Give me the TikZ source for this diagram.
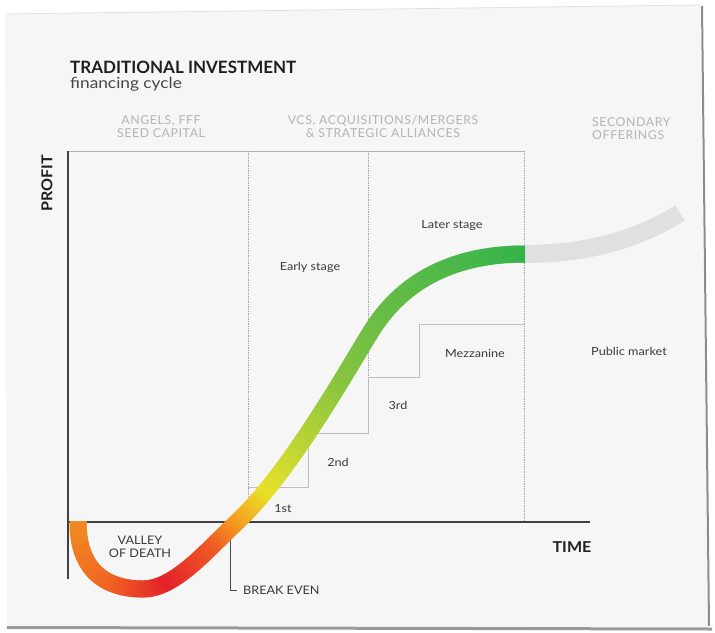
\documentclass[tikz,border=0pt]{standalone}
\usepackage{fontspec}
\setmainfont{Lato}
\newfontfamily\spacedfont[LetterSpace=5]{Lato}
\newfontfamily\widefont[FakeStretch=1.13]{Lato}
\newfontfamily\capfont[FakeStretch=1.07]{Lato}
\usetikzlibrary{decorations.markings}
\definecolor{paper}{HTML}{F6F6F6}
\definecolor{cA}{HTML}{F08C22}
\definecolor{cB}{HTML}{F26522}
\definecolor{cC}{HTML}{E32129}
\definecolor{cD}{HTML}{EE5A24}
\definecolor{cE}{HTML}{F5A01F}
\definecolor{cF}{HTML}{E8E12A}
\definecolor{cG}{HTML}{B7D335}
\definecolor{cH}{HTML}{86C440}
\definecolor{cI}{HTML}{6ABD45}
\definecolor{cJ}{HTML}{33B34A}
\definecolor{hdrgray}{HTML}{B4B4B4}
\definecolor{txt}{HTML}{3A3A3A}
\newcommand\mixstop[4]{%
  \pgfmathsetmacro\mixp{max(0,min(100,(\bdist-#1)/(#2-#1)*100))}%
  \colorlet{bandc}{#4!\mixp!#3}}
\newcommand\bandcolor{%
  \pgfmathsetmacro\bdist{\pgfkeysvalueof{/pgf/decoration/mark info/distance from start}}%
  \ifdim\bdist pt<70pt \mixstop{0}{70}{cA}{cB}%
  \else\ifdim\bdist pt<130pt \mixstop{70}{130}{cB}{cC}%
  \else\ifdim\bdist pt<190pt \mixstop{130}{190}{cC}{cD}%
  \else\ifdim\bdist pt<225pt \mixstop{190}{225}{cD}{cE}%
  \else\ifdim\bdist pt<265pt \mixstop{225}{265}{cE}{cF}%
  \else\ifdim\bdist pt<330pt \mixstop{265}{330}{cF}{cG}%
  \else\ifdim\bdist pt<400pt \mixstop{330}{400}{cG}{cH}%
  \else\ifdim\bdist pt<470pt \mixstop{400}{470}{cH}{cI}%
  \else \mixstop{470}{640}{cI}{cJ}%
  \fi\fi\fi\fi\fi\fi\fi\fi}
\tikzset{
  bandslices/.style={decorate, decoration={markings,
      mark=between positions 0 and 1 step 0.7pt with {\bandcolor
        \fill[bandc] (-0.6pt,-8.5pt) rectangle (0.6pt,8.5pt);}}},
  axisline/.style={draw=black!75, line width=1.8pt},
  frameline/.style={draw=black!30, line width=0.8pt},
  dotline/.style={draw=black!35, line width=0.7pt, densely dotted},
  stepline/.style={draw=black!25, line width=1pt},
  beline/.style={draw=black!70, line width=1pt},
  titletext/.style={inner sep=0pt, font=\fontsize{17}{19}\selectfont\bfseries, text=black!88},
  subtext/.style={inner sep=0pt, font=\widefont\fontsize{15.3}{17}\selectfont, text=black!72},
  hdrtext/.style={inner sep=0pt, font=\spacedfont\fontsize{12.3}{13}\selectfont, text=hdrgray},
  axistext/.style={inner sep=0pt, font=\capfont\fontsize{15}{17}\selectfont\bfseries, text=black!88},
  stagetext/.style={inner sep=0pt, font=\widefont\fontsize{11.2}{13}\selectfont, text=txt},
  captext/.style={inner sep=0pt, font=\capfont\fontsize{11.8}{12.5}\selectfont, text=txt},
}
\begin{document}
\begin{tikzpicture}[x=1pt,y=-1pt]
\useasboundingbox (0,0) rectangle (715,632);
\fill[white] (0,0) rectangle (715,632);
% paper sheet
\fill[paper] (5,14) -- (700,5) -- (708,627) -- (7,626) -- cycle;
\draw[black!12, line width=0.8pt] (5,14) -- (700,5);
\draw[black!45, line width=2pt] (702,6) -- (709,626);
\draw[black!40, line width=3pt] (7,627.5) -- (712,629);
% titles
\node[titletext, anchor=west] (title) at (70,67) {TRADITIONAL INVESTMENT};
\node[subtext, anchor=west] (subtitle) at (70,84) {financing cycle};
\node[hdrtext, align=center] (hdrA) at (161,126.5) {ANGELS, FFF\\SEED CAPITAL};
\node[hdrtext, align=center] (hdrB) at (383,126.5) {VCS, ACQUISITIONS/MERGERS\\\& STRATEGIC ALLIANCES};
\node[hdrtext, align=left, anchor=west] (hdrC) at (592,128.5) {SECONDARY\\OFFERINGS};
% coordinates
\coordinate (ytop) at (68,151);
\coordinate (ybot) at (68,579);
\coordinate (orig) at (68,522);
\coordinate (xend) at (590,522);
\coordinate (ftr) at (524,151);
\coordinate (dA1) at (248,151); \coordinate (dA2) at (248,522);
\coordinate (dB1) at (368,151); \coordinate (dB2) at (368,377);
\coordinate (dC2) at (524,522);
\coordinate (s0) at (248,487); \coordinate (s1) at (308,487); \coordinate (s2) at (308,433);
\coordinate (s3) at (368,433); \coordinate (s4) at (368,377); \coordinate (s5) at (419,377);
\coordinate (s6) at (419,324); \coordinate (s7) at (524,324);
\coordinate (be0) at (230,522); \coordinate (be1) at (230,590); \coordinate (be2) at (237,590);
% frame and grid
\draw[frameline] (ytop) -- (ftr);
\draw[dotline] (dA1) -- (dA2);
\draw[dotline] (dB1) -- (dB2);
\draw[dotline] (ftr) -- (dC2);
\draw[stepline] (s0) -- (s1) -- (s2) -- (s3) -- (s4) -- (s5) -- (s6) -- (s7);
\draw[beline] (be0) -- (be1) -- (be2);
% axes
\draw[axisline] (ybot) -- (ytop);
\draw[axisline] (orig) -- (xend);
% gray continuation
\coordinate (gstart) at (525,254);
\coordinate (gend) at (680,213);
\draw[line width=18pt, draw=black!12] (gstart) .. controls (590,254) and (640,238) .. (gend);
% gradient band
\coordinate (cv0) at (78,522);
\coordinate (cv1) at (143,589);
\coordinate (cv2) at (237,522);
\coordinate (cv3) at (372,330);
\coordinate (cv4) at (525,254);
\path[bandslices] (cv0) .. controls (78,570) and (105,589) .. (cv1)
  .. controls (175,589) and (207,550) .. (cv2)
  .. controls (290,473) and (350,365) .. (cv3)
  .. controls (396,292) and (440,254) .. (cv4);
% labels
\node[axistext, rotate=90] (profit) at (47,183) {PROFIT};
\node[axistext] (time) at (572,547) {TIME};
\node[stagetext] (early) at (310,267) {Early stage};
\node[stagetext] (later) at (452,226) {Later stage};
\node[stagetext] (mezz) at (475,353) {Mezzanine};
\node[stagetext] (public) at (629,351) {Public market};
\node[stagetext] (first) at (283,509) {1st};
\node[stagetext] (second) at (338,462) {2nd};
\node[stagetext] (third) at (398,405) {3rd};
\node[captext, align=center] (valley) at (140,547) {VALLEY\\OF DEATH};
\node[captext, anchor=west] (breakeven) at (243,590) {BREAK EVEN};
\end{tikzpicture}
\end{document}
